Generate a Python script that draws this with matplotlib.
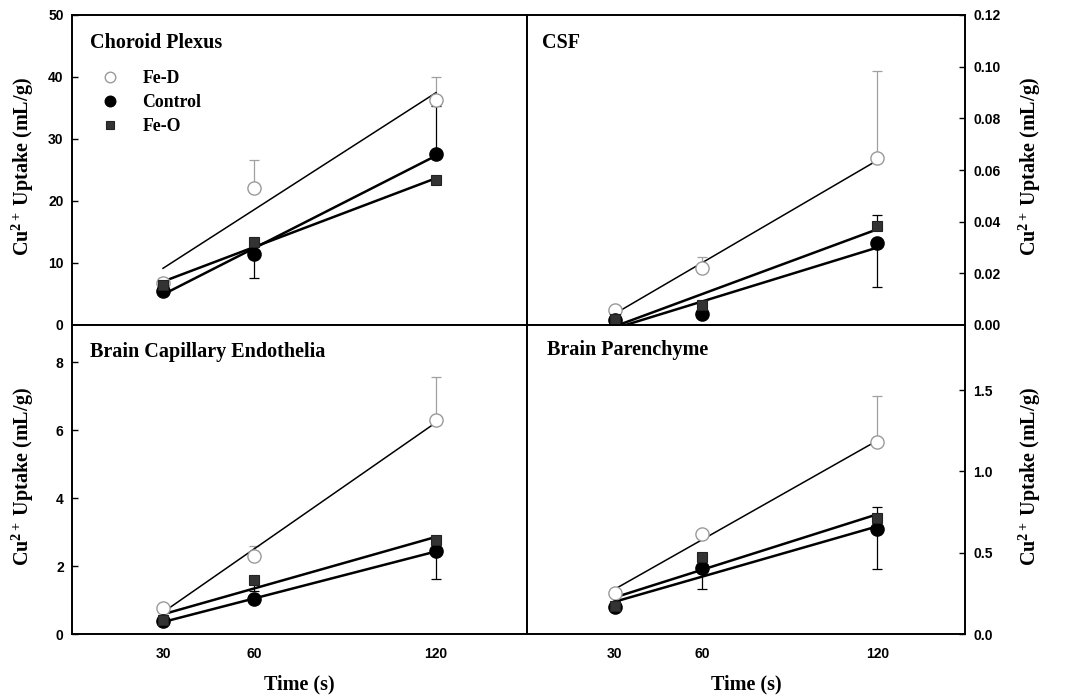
import matplotlib
matplotlib.use('Agg')
import matplotlib.pyplot as plt
import numpy as np
from matplotlib.lines import Line2D

plt.rcParams['mathtext.fontset'] = 'custom'
plt.rcParams['mathtext.rm'] = 'Liberation Serif:bold'
plt.rcParams['mathtext.bf'] = 'Liberation Serif:bold'
plt.rcParams['mathtext.it'] = 'Liberation Serif:bold:italic'

time_s = [30, 60, 120]
x_ticks = [30, 60, 120]
groups = ['Fe-D', 'Control', 'Fe-O']

# Choroid Plexus (mL/g)
cp_fed = [6.8, 22.1, 36.3]
cp_fed_up = [0.8, 4.5, 3.7]
cp_fed_dn = [0, 0, 0]
cp_ctl = [5.5, 11.5, 27.6]
cp_ctl_up = [0, 0, 7.8]
cp_ctl_dn = [0, 3.9, 0]
cp_feo = [6.45, 13.4, 23.4]
cp_feo_up = [0, 0, 0]
cp_feo_dn = [0, 0, 0]

# CSF
csf_fed = [0.0058, 0.0219, 0.0645]
csf_fed_up = [0, 0.0046, 0.034]
csf_fed_dn = [0, 0, 0]
csf_ctl = [0.0019, 0.0043, 0.0316]
csf_ctl_up = [0, 0, 0]
csf_ctl_dn = [0, 0, 0.0168]
csf_feo = [0.0023, 0.0077, 0.0385]
csf_feo_up = [0, 0, 0.0041]
csf_feo_dn = [0, 0, 0]

# Brain Capillary Endothelia
bce_fed = [0.78, 2.29, 6.3]
bce_fed_up = [0, 0.31, 1.26]
bce_fed_dn = [0, 0, 0]
bce_ctl = [0.37, 1.02, 2.44]
bce_ctl_up = [0, 0, 0]
bce_ctl_dn = [0, 0, 0.83]
bce_feo = [0.42, 1.58, 2.78]
bce_feo_up = [0, 0, 0]
bce_feo_dn = [0, 0.3, 0]

# Brain Parenchyme
bp_fed = [0.252, 0.615, 1.178]
bp_fed_up = [0, 0, 0.283]
bp_fed_dn = [0, 0, 0]
bp_ctl = [0.164, 0.404, 0.645]
bp_ctl_up = [0, 0, 0]
bp_ctl_dn = [0, 0.127, 0.245]
bp_feo = [0.174, 0.471, 0.711]
bp_feo_up = [0, 0, 0.072]
bp_feo_dn = [0, 0, 0]

serif = 'Liberation Serif'
sans = 'Liberation Sans'

fig = plt.figure(figsize=(10.65, 6.96), dpi=100)
W, H = 1065, 696
def pos(x0, x1, y0, y1):
    return [x0 / W, 1 - y1 / H, (x1 - x0) / W, (y1 - y0) / H]

ax_cp = fig.add_axes(pos(72, 527, 15, 325))
ax_csf = fig.add_axes(pos(527, 965, 15, 325))
ax_bce = fig.add_axes(pos(72, 527, 325, 634))
ax_bp = fig.add_axes(pos(527, 965, 325, 634))

styles = {
    'Fe-D': dict(marker='o', ms=9.5, mfc='white', mec='#9a9a9a', mew=1.0,
                 line_lw=1.1, err_color='#a0a0a0'),
    'Control': dict(marker='o', ms=9.5, mfc='black', mec='black', mew=1.0,
                    line_lw=1.8, err_color='black'),
    'Fe-O': dict(marker='s', ms=7, mfc='#333333', mec='#222222', mew=0.8,
                 line_lw=1.8, err_color='black'),
}

def panel(ax, data, ylim, yticks, fmt, title, right, bottom, tx, ty):
    for name, vals, up, dn in data:
        st = styles[name]
        ax.errorbar(time_s, vals, yerr=[dn, up], fmt='none', ecolor=st['err_color'],
                    elinewidth=0.9, capsize=3.5, capthick=0.9, zorder=2)
        slope, icpt = np.polyfit(time_s, vals, 1)
        xs = np.array([time_s[0], time_s[-1]], dtype=float)
        ax.plot(xs, slope * xs + icpt, color='black', lw=st['line_lw'], zorder=3)
        ax.plot(time_s, vals, linestyle='none', marker=st['marker'], ms=st['ms'],
                mfc=st['mfc'], mec=st['mec'], mew=st['mew'], zorder=4)
    ax.set_xlim(0, 150)
    ax.set_ylim(*ylim)
    ax.set_yticks(yticks)
    ax.set_yticklabels([fmt.format(v) for v in yticks])
    ax.set_xticks(x_ticks)
    if bottom:
        ax.set_xticklabels([str(v) for v in x_ticks])
    else:
        ax.set_xticklabels([])
    ax.tick_params(axis='x', length=0, pad=9, labelsize=10)
    if right:
        ax.yaxis.tick_right()
        ax.yaxis.set_label_position('right')
    ax.tick_params(axis='y', direction='in', length=4, width=1, labelsize=10, pad=6)
    for lab in ax.get_xticklabels() + ax.get_yticklabels():
        lab.set_fontfamily(sans)
        lab.set_fontweight('bold')
    for sp in ax.spines.values():
        sp.set_linewidth(1.4)
    ax.text(tx, ty, title, transform=ax.transAxes, fontfamily=serif,
            fontweight='bold', fontsize=14.5, va='center', ha='left')

panel(ax_cp, [('Fe-D', cp_fed, cp_fed_up, cp_fed_dn),
              ('Control', cp_ctl, cp_ctl_up, cp_ctl_dn),
              ('Fe-O', cp_feo, cp_feo_up, cp_feo_dn)],
      (0, 50), [0, 10, 20, 30, 40, 50], '{:.0f}', 'Choroid Plexus', False, False, 0.04, 0.91)
panel(ax_csf, [('Fe-D', csf_fed, csf_fed_up, csf_fed_dn),
               ('Control', csf_ctl, csf_ctl_up, csf_ctl_dn),
               ('Fe-O', csf_feo, csf_feo_up, csf_feo_dn)],
      (0, 0.12), [0, 0.02, 0.04, 0.06, 0.08, 0.10, 0.12], '{:.2f}', 'CSF', True, False, 0.034, 0.91)
panel(ax_bce, [('Fe-D', bce_fed, bce_fed_up, bce_fed_dn),
               ('Control', bce_ctl, bce_ctl_up, bce_ctl_dn),
               ('Fe-O', bce_feo, bce_feo_up, bce_feo_dn)],
      (0, 9.1), [0, 2, 4, 6, 8], '{:.0f}', 'Brain Capillary Endothelia', False, True, 0.04, 0.913)
panel(ax_bp, [('Fe-D', bp_fed, bp_fed_up, bp_fed_dn),
              ('Control', bp_ctl, bp_ctl_up, bp_ctl_dn),
              ('Fe-O', bp_feo, bp_feo_up, bp_feo_dn)],
      (0, 1.9), [0, 0.5, 1.0, 1.5], '{:.1f}', 'Brain Parenchyme', True, True, 0.046, 0.92)

ylab = r'Cu$^{\mathbf{2+}}$ Uptake (mL/g)'
for ax, xc in ((ax_cp, -0.079), (ax_bce, -0.079), (ax_csf, 1.118), (ax_bp, 1.118)):
    ax.set_ylabel(ylab, fontfamily=serif, fontweight='bold', fontsize=14.5)
    ax.yaxis.set_label_coords(xc, 0.51)
for ax in (ax_bce, ax_bp):
    ax.set_xlabel('Time (s)', fontfamily=serif, fontweight='bold', fontsize=14.5)
    ax.xaxis.set_label_coords(0.5, -0.13)

handles = [Line2D([], [], linestyle='none', marker=styles[g]['marker'],
                  ms=styles[g]['ms'] * 0.8, mfc=styles[g]['mfc'], mec=styles[g]['mec'],
                  mew=styles[g]['mew']) for g in groups]
leg = ax_cp.legend(handles, groups, loc='upper left', bbox_to_anchor=(0.045, 0.845),
                   frameon=False, handlelength=1.2, handletextpad=1.2, labelspacing=0.4,
                   borderaxespad=0, prop={'family': serif, 'weight': 'bold', 'size': 12.8})

fig.savefig('out.png', dpi=100)
